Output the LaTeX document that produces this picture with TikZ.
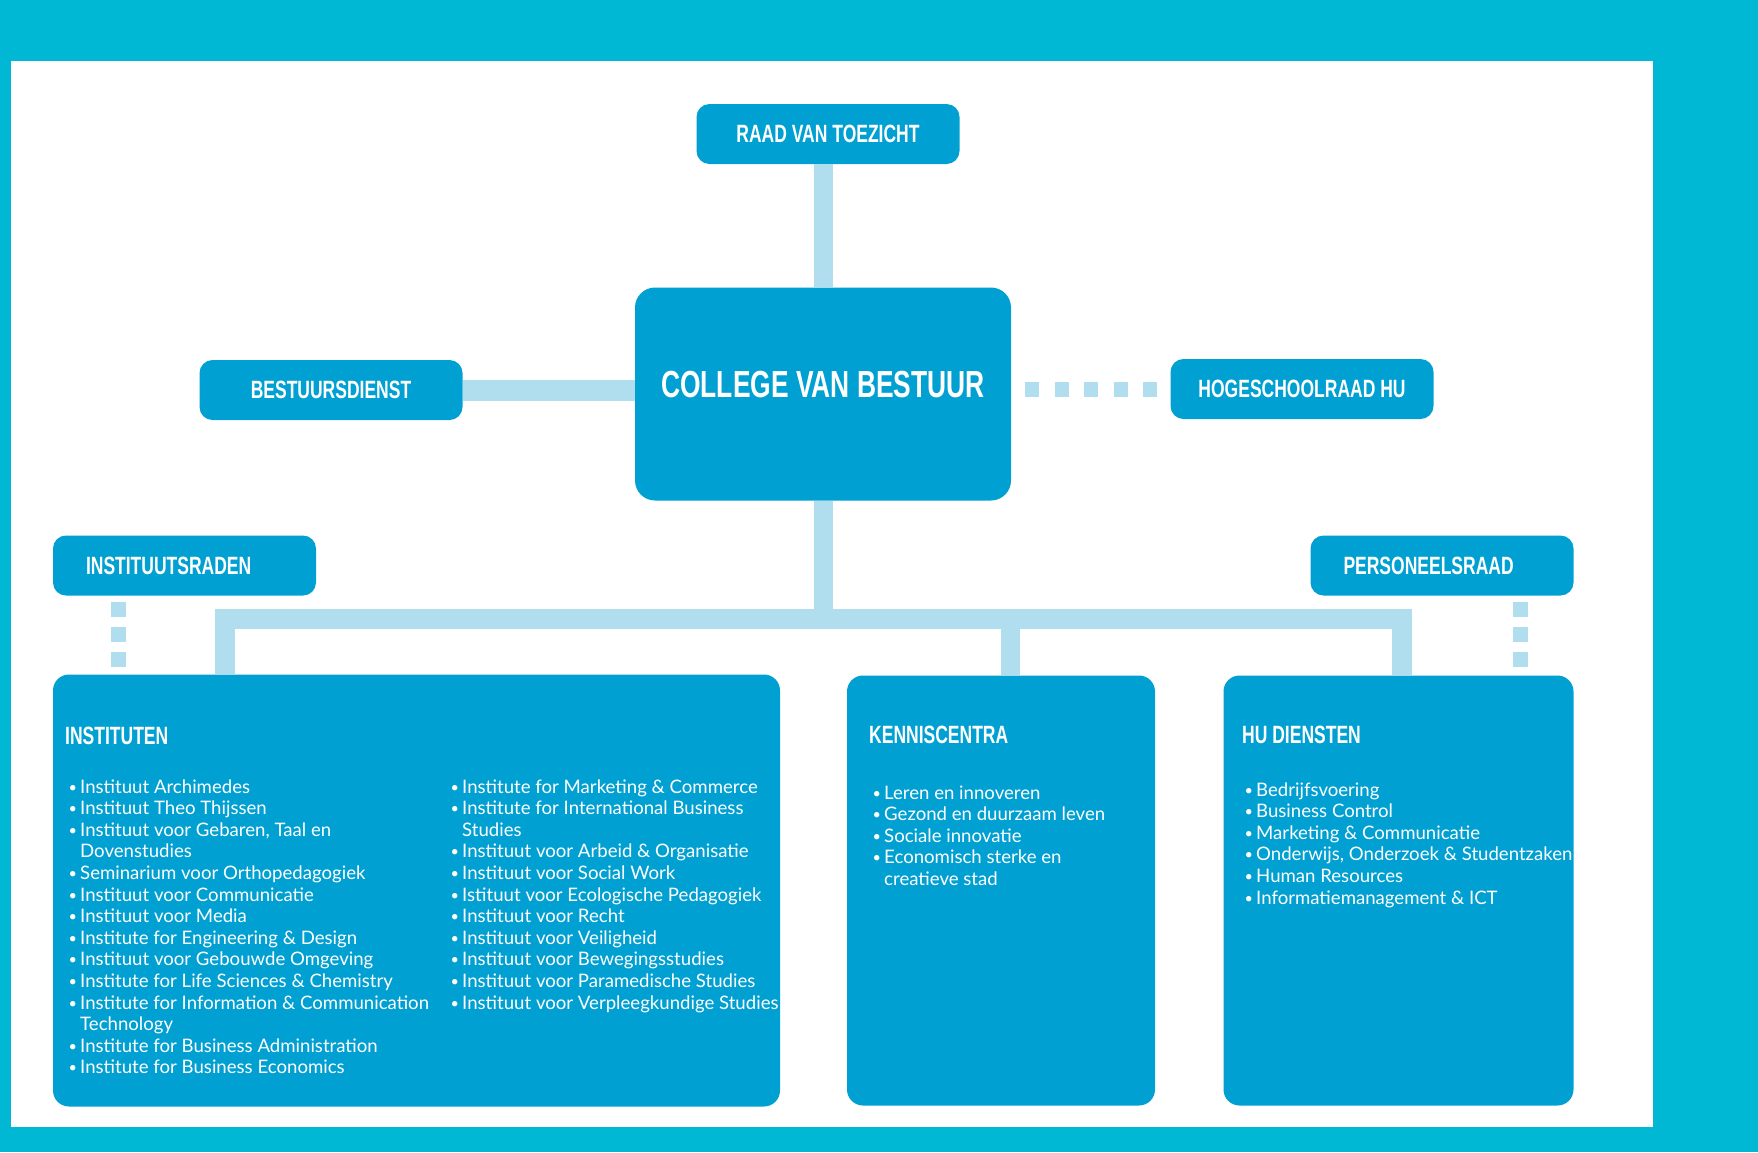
\documentclass[tikz,border=0pt]{standalone}
\usepackage{fontspec}
\setmainfont{Lato}
\newfontfamily\hufont[FakeStretch=0.7]{Liberation Sans Bold}
\usepackage{xcolor}
\usepackage{graphicx}
\definecolor{hucyan}{RGB}{0,184,212}
\definecolor{hublue}{RGB}{0,160,211}
\definecolor{hulight}{RGB}{176,222,238}
\newcommand{\hubul}{\makebox[12pt][l]{\hspace{0.5pt}\raisebox{1pt}{\scalebox{0.78}{\textbullet}}}}
\newcommand{\hugap}{\hspace*{12pt}}

\begin{document}
\begin{tikzpicture}[x=1pt, y=-1pt, line join=miter,
		box/.style={fill=hublue, rounded corners=13pt, minimum width=263pt, minimum height=60pt, inner sep=0pt, text=white, font=\hufont\fontsize{25}{30}\selectfont},
		bigbox/.style={fill=hublue, rounded corners=16pt, inner sep=0pt},
		head/.style={anchor=west, inner sep=0pt, text=white, font=\hufont\fontsize{25}{30}\selectfont},
		item/.style={anchor=base west, inner sep=0pt, text=white, font=\fontsize{18.6}{21.6}\selectfont},
		link/.style={draw=hulight, line width=19pt},
		dots/.style={draw=hulight, line width=15pt, dash pattern=on 15pt off 10pt, dash phase=19pt}]
		\useasboundingbox (0,0) rectangle (1758,1152);
		\fill[hucyan] (0,0) rectangle (1758,1152);
		\fill[white] (11,61) rectangle (1653,1127);
		\node[box] (raad) at (828,134) {RAAD VAN TOEZICHT};
		\node[box, minimum width=376pt, minimum height=213pt, rounded corners=20pt] (cvb) at (823,394) {};
		\node[inner sep=0pt, text=white, font=\hufont\fontsize{37.7}{44}\selectfont] (cvb-title) at (823,385) {COLLEGE VAN BESTUUR};
		\node[box] (bestuur) at (331,390) {BESTUURSDIENST};
		\node[box] (hsr) at (1302,389) {HOGESCHOOLRAAD HU};
		\node[box, text width=197pt, align=left] (instraad) at (184.5,565.5) {INSTITUUTSRADEN};
		\node[box, text width=197pt, align=left] (persraad) at (1442,565.5) {PERSONEELSRAAD};
		\node[bigbox, minimum width=727pt, minimum height=432pt] (inst) at (416.5,890.5) {};
		\node[bigbox, minimum width=308pt, minimum height=430pt] (kenn) at (1001,890.5) {};
		\node[bigbox, minimum width=350pt, minimum height=430pt] (hud) at (1398.5,890.5) {};
		\draw[link] (raad.south -| cvb.north) -- (cvb.north);
		\draw[link, line width=21pt] (bestuur.east) -- (bestuur.east -| cvb.west);
		\draw[hulight, line width=15pt, dash pattern=on 14pt off 15.5pt, dash phase=15.5pt] (cvb.east |- hsr.west) -- (hsr.west);
		\coordinate (busL) at (225,619);
		\coordinate (busR) at (1402,619);
		\path ([xshift=9pt]kenn.north) coordinate (kennTop);
		\draw[link, line width=20pt] (busL |- inst.north) -- (busL) -- (busR) -- (busR |- hud.north);
		\draw[link] (cvb.south) -- (cvb.south |- busL);
		\draw[link] (kennTop |- busL) -- (kennTop);
		\path ([xshift=66pt]instraad.south west) coordinate (irs);
		\path ([xshift=-53pt]persraad.south east) coordinate (prs);
		\draw[dots] (irs) -- (irs |- inst.north);
		\draw[dots] (prs) -- (prs |- hud.north);
		\node[head] (inst-head) at (65,736) {INSTITUTEN};
		\node[head] (kenn-head) at (869,735) {KENNISCENTRA};
		\node[head] (hud-head) at (1242,735) {HU DIENSTEN};
		\foreach \t [count=\i from 0] in {{\hubul Instituut Archimedes}, {\hubul Instituut Theo Thijssen},
			{\hubul Instituut voor Gebaren, Taal en}, {\hugap Dovenstudies},
			{\hubul Seminarium voor Orthopedagogiek}, {\hubul Instituut voor Communicatie},
			{\hubul Instituut voor Media}, {\hubul Institute for Engineering \& Design},
			{\hubul Instituut voor Gebouwde Omgeving}, {\hubul Institute for Life Sciences \& Chemistry},
			{\hubul Institute for Information \& Communication}, {\hugap Technology},
			{\hubul Institute for Business Administration}, {\hubul Institute for Business Economics}}
			{
				\node[item] (inst-\i) at (68,793+21.6*\i) {\t};
			}
		\foreach \t [count=\i from 0] in {{\hubul Institute for Marketing \& Commerce},
			{\hubul Institute for International Business}, {\hugap Studies},
			{\hubul Instituut voor Arbeid \& Organisatie}, {\hubul Instituut voor Social Work},
			{\hubul Istituut voor Ecologische Pedagogiek}, {\hubul Instituut voor Recht},
			{\hubul Instituut voor Veiligheid}, {\hubul Instituut voor Bewegingsstudies},
			{\hubul Instituut voor Paramedische Studies}, {\hubul Instituut voor Verpleegkundige Studies}}
			{
				\node[item] (inst2-\i) at (450,793+21.6*\i) {\t};
			}
		\foreach \t [count=\i from 0] in {{\hubul Leren en innoveren}, {\hubul Gezond en duurzaam leven},
			{\hubul Sociale innovatie}, {\hubul Economisch sterke en}, {\hugap creatieve stad}}
			{
				\node[item] (kenn-\i) at (872,799+21.6*\i) {\t};
			}
		\foreach \t [count=\i from 0] in {{\hubul Bedrijfsvoering}, {\hubul Business Control},
			{\hubul Marketing \& Communicatie}, {\hubul Onderwijs, Onderzoek \& Studentzaken},
			{\hubul Human Resources}, {\hubul Informatiemanagement \& ICT}}
			{
				\node[item] (hud-\i) at (1244,796+21.6*\i) {\t};
			}
\end{tikzpicture}
\end{document}
